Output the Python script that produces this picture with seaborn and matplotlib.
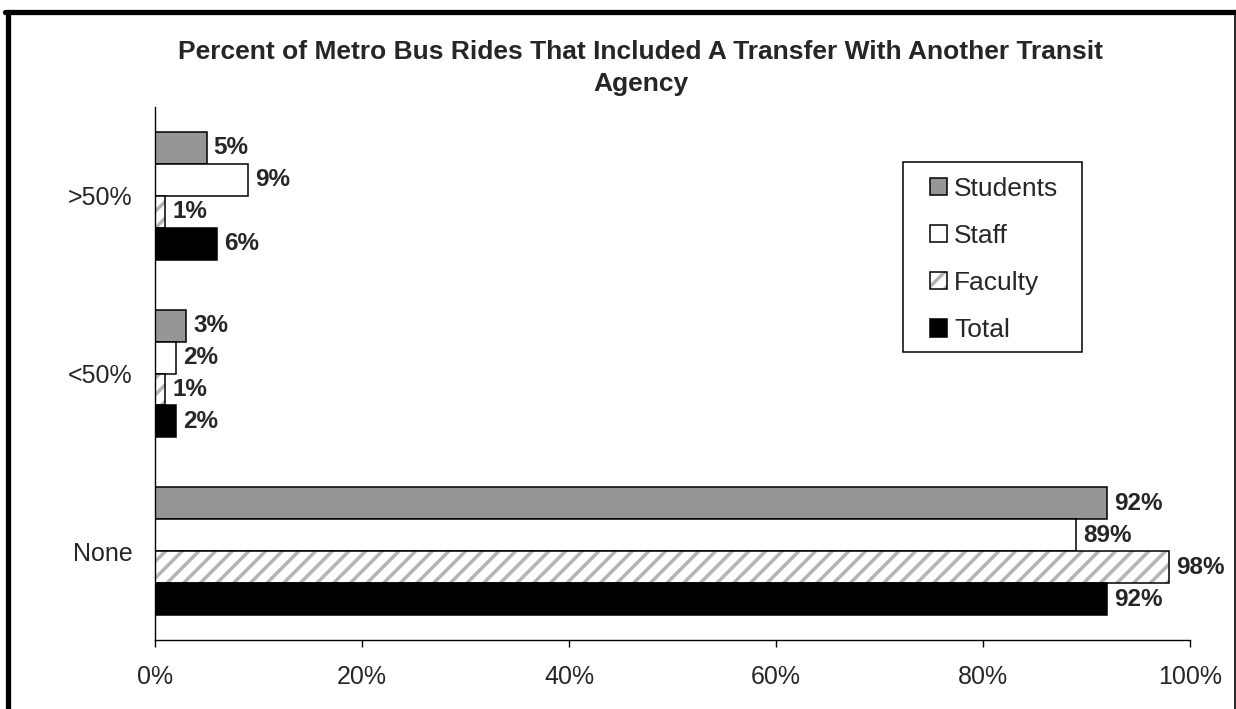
import pandas as pd
import numpy as np
import matplotlib
matplotlib.use("Agg")
import matplotlib.pyplot as plt
import matplotlib.colors as mcolors
from matplotlib.lines import Line2D
from matplotlib.patches import Rectangle
import seaborn as sns

sns.set_theme(style="white")
plt.rcParams['font.family'] = ['Liberation Sans', 'DejaVu Sans']
plt.rcParams['hatch.linewidth'] = 2.5

# data
categories = [">50%", "<50%", "None"]
groups = ["Students", "Staff", "Faculty", "Total"]
students = [5, 3, 92]
staff = [9, 2, 89]
faculty = [1, 1, 98]
total = [6, 2, 92]
xticks = [0, 20, 40, 60, 80, 100]

title = "Percent of Metro Bus Rides That Included A Transfer With Another Transit\nAgency"
colors = {"Students": "#969696", "Staff": "#ffffff", "Faculty": "#ffffff", "Total": "#000000"}
hatch_grey = mcolors.to_rgba("#b4b4b4")

df = pd.DataFrame({
    "cat": categories * 4,
    "grp": [g for g in groups for _ in categories],
    "val": students + staff + faculty + total,
})

fig = plt.figure(figsize=(12.36, 7.09), dpi=100)
ax = fig.add_axes([155/1236, 1-640/709, (1190-155)/1236, (640-107)/709])

sns.barplot(data=df, x="val", y="cat", hue="grp", order=categories, hue_order=groups,
            palette=colors, saturation=1, width=0.72, edgecolor="black", linewidth=1.1,
            orient="h", ax=ax)

# hatch faculty bars (grey stripes, black outline)
for p in ax.containers[2]:
    p.set_hatch("//")
    p._hatch_color = hatch_grey

for cont, vals in zip(ax.containers, [students, staff, faculty, total]):
    ax.bar_label(cont, labels=[f"{v}%" for v in vals], padding=5,
                 fontsize=17.5, fontweight="bold")

ax.set_xlim(0, 100)
ax.set_xticks(xticks)
ax.set_xticklabels([f"{t}%" for t in xticks])
ax.set_xlabel("")
ax.set_ylabel("")
ax.tick_params(axis="x", length=5, width=1, color="black", direction="out",
               bottom=True, labelsize=18, pad=13)
ax.tick_params(axis="y", length=0, labelsize=18, pad=16)
for s in ["top", "right"]:
    ax.spines[s].set_visible(False)
for s in ["left", "bottom"]:
    ax.spines[s].set_color("black")
    ax.spines[s].set_linewidth(1)

# legend
handles, labels = ax.get_legend_handles_labels()
ax.legend_.remove()
handles[2].set_hatch("//")
handles[2]._hatch_color = hatch_grey
leg = ax.legend(handles, labels, loc="center", bbox_to_anchor=(0.811, 0.714),
                frameon=False, fontsize=19, handlelength=0.62, handleheight=0.62,
                handletextpad=0.28, labelspacing=0.88)
ax.add_patch(Rectangle((0.7227, 0.540), 0.173, 0.3565, transform=ax.transAxes,
                       fill=False, edgecolor="black", linewidth=1.1, clip_on=False))

fig.text(641/1236, 1-68/709, title, ha="center", va="center", fontsize=19,
         fontweight="bold", linespacing=1.4)

# outer chart border
fig.add_artist(Line2D([7.5/1236, 7.5/1236], [0, 1-11.5/709], color="black", linewidth=3.8,
                      transform=fig.transFigure))
fig.add_artist(Line2D([5/1236, 1235/1236], [1-11.5/709, 1-11.5/709], color="black",
                      linewidth=3.8, transform=fig.transFigure))
fig.add_artist(Line2D([1234.5/1236, 1234.5/1236], [0, 1-11.5/709], color="black",
                      linewidth=1.2, transform=fig.transFigure))

fig.savefig("out.png", dpi=100)
